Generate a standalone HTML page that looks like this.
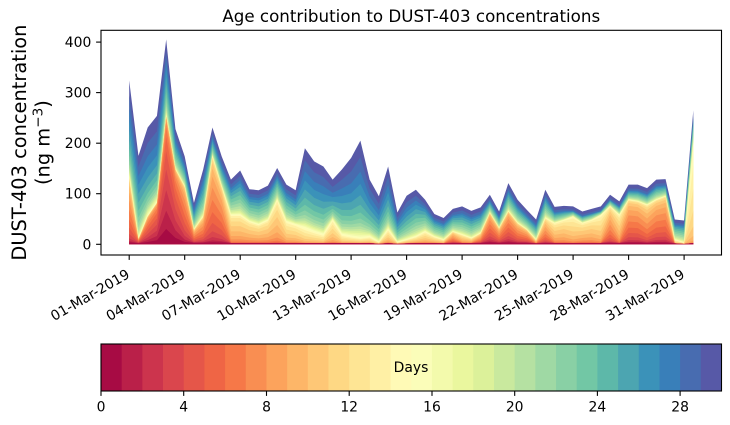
<!DOCTYPE html>
<html><head><meta charset="utf-8">
<style>
html,body{margin:0;padding:0;background:#fff;}
svg{display:block;}
text{font-family:"DejaVu Sans","Liberation Sans",sans-serif;fill:#000;}
</style></head>
<body>
<svg id="s" width="730" height="425" viewBox="0 0 730 425" xmlns="http://www.w3.org/2000/svg">
<rect width="730" height="425" fill="#fff"/>
<g id="areas"></g>
<g id="cbar"></g>
<rect x="101" y="30.3" width="620.5" height="224.7" fill="none" stroke="#000" stroke-width="1.1"/>
<text x="411.25" y="22" font-size="16.7" text-anchor="middle">Age contribution to DUST-403 concentrations</text>
<text transform="translate(26,142.6) rotate(-90)" font-size="19.4" text-anchor="middle">DUST-403 concentration</text>
<text transform="translate(49.5,142.6) rotate(-90)" font-size="19.4" text-anchor="middle">(ng m<tspan font-size="13.6" dy="-7">−3</tspan><tspan dy="7">)</tspan></text>
<g stroke="#000" stroke-width="1.1">
<line x1="96.1" y1="244.3" x2="101" y2="244.3"/>
<line x1="96.1" y1="193.7" x2="101" y2="193.7"/>
<line x1="96.1" y1="143.2" x2="101" y2="143.2"/>
<line x1="96.1" y1="92.6" x2="101" y2="92.6"/>
<line x1="96.1" y1="42.1" x2="101" y2="42.1"/>
</g>
<g font-size="13.9" text-anchor="end">
<text x="91.3" y="249.3">0</text>
<text x="91.3" y="198.7">100</text>
<text x="91.3" y="148.2">200</text>
<text x="91.3" y="97.6">300</text>
<text x="91.3" y="47.1">400</text>
</g>
<g stroke="#000" stroke-width="1.1">
<line x1="129.2" y1="255" x2="129.2" y2="259.9"/>
<line x1="184.7" y1="255" x2="184.7" y2="259.9"/>
<line x1="240.2" y1="255" x2="240.2" y2="259.9"/>
<line x1="295.7" y1="255" x2="295.7" y2="259.9"/>
<line x1="351.1" y1="255" x2="351.1" y2="259.9"/>
<line x1="406.6" y1="255" x2="406.6" y2="259.9"/>
<line x1="462.1" y1="255" x2="462.1" y2="259.9"/>
<line x1="517.6" y1="255" x2="517.6" y2="259.9"/>
<line x1="573.1" y1="255" x2="573.1" y2="259.9"/>
<line x1="628.6" y1="255" x2="628.6" y2="259.9"/>
<line x1="684.1" y1="255" x2="684.1" y2="259.9"/>
</g>
<g font-size="13.9" text-anchor="end">
<text transform="translate(130.7,277) rotate(-30)">01-Mar-2019</text>
<text transform="translate(186.2,277) rotate(-30)">04-Mar-2019</text>
<text transform="translate(241.7,277) rotate(-30)">07-Mar-2019</text>
<text transform="translate(297.2,277) rotate(-30)">10-Mar-2019</text>
<text transform="translate(352.6,277) rotate(-30)">13-Mar-2019</text>
<text transform="translate(408.1,277) rotate(-30)">16-Mar-2019</text>
<text transform="translate(463.6,277) rotate(-30)">19-Mar-2019</text>
<text transform="translate(519.1,277) rotate(-30)">22-Mar-2019</text>
<text transform="translate(574.6,277) rotate(-30)">25-Mar-2019</text>
<text transform="translate(630.1,277) rotate(-30)">28-Mar-2019</text>
<text transform="translate(685.6,277) rotate(-30)">31-Mar-2019</text>
</g>
<rect x="101" y="344" width="620.5" height="47" fill="none" stroke="#000" stroke-width="1.1"/>
<g stroke="#000" stroke-width="1.1">
<line x1="101" y1="391" x2="101" y2="395.9"/>
<line x1="183.7" y1="391" x2="183.7" y2="395.9"/>
<line x1="266.5" y1="391" x2="266.5" y2="395.9"/>
<line x1="349.2" y1="391" x2="349.2" y2="395.9"/>
<line x1="432" y1="391" x2="432" y2="395.9"/>
<line x1="514.7" y1="391" x2="514.7" y2="395.9"/>
<line x1="597.4" y1="391" x2="597.4" y2="395.9"/>
<line x1="680.1" y1="391" x2="680.1" y2="395.9"/>
</g>
<g font-size="13.9" text-anchor="middle">
<text x="101" y="411.5">0</text>
<text x="183.7" y="411.5">4</text>
<text x="266.5" y="411.5">8</text>
<text x="349.2" y="411.5">12</text>
<text x="432" y="411.5">16</text>
<text x="514.7" y="411.5">20</text>
<text x="597.4" y="411.5">24</text>
<text x="680.1" y="411.5">28</text>
</g>
<text x="411" y="372" font-size="13.9" text-anchor="middle">Days</text>
</svg>
<script>
(function(){
var T=[324,175,231,254,405,228,174,82,148,231,174,128,146,109,107,116,151,118,107,190,164,154,128,148,171,205,128,95,154,63,96,108,88,60,52,70,75,66,73,98,65,121,88,68,49,108,74,76,75,65,70,75,98,85,118,118,111,128,129,49,47,265];
var Y=[134,10,55,82,253,148,114,29,55,174,114,58,58,45,39,48,88,45,39,32,25,19,48,19,15,12,15,4,29,4,9,15,25,15,9,25,19,12,22,62,32,65,42,29,9,52,42,48,55,42,48,58,75,58,88,85,78,88,95,9,3,200];
var MY=[7,6,5,4,3,4,6,7,7,7,7,9,9,9,9,9,9,10,10,11,11,11,10,11,11,11,11,11,10,11,10,10,10,10,10,8,9,9,8,6,7,6,7,7,9,8,9,9,10,9,9,10,8,9,7,7,8,7,7,11,11,12];
var MO=[24,23,25,25,23,22,22,22,22,22,22,21,21,21,21,21,21,21,22,24,24,24,24,24,25,25,24,24,24,23,23,22,21,21,21,21,21,21,21,21,21,21,21,21,21,21,21,21,20,20,20,20,20,20,21,21,21,21,21,20,20,19];
var C=[[158,1,66],[213,62,79],[244,109,67],[253,174,97],[254,224,139],[255,255,191],[230,245,152],[171,221,164],[102,194,165],[50,136,189],[94,79,162]];
function spec(t){var s=t*10,i=Math.floor(s);if(i>=10)i=9;var f=s-i,a=C[i],b=C[i+1];
return 'rgb('+Math.round(a[0]+(b[0]-a[0])*f)+','+Math.round(a[1]+(b[1]-a[1])*f)+','+Math.round(a[2]+(b[2]-a[2])*f)+')';}
var N=30,P=T.length,ns="http://www.w3.org/2000/svg";
var X0=129.2,DX=9.2475,Y0=244.3,SY=0.5056;
var cum=[];
for(var k=0;k<P;k++){
  var tot=T[k],top=Math.min(6+0.03*tot,tot*0.15),young=Math.min(Y[k],tot-top-1),old=tot-young-top;
  var red=Math.min(2.5,young*0.2);young-=red;
  var L=[],i,w,s=0;
  var my=MY[k]>=9?MY[k]+1.5:MY[k],sg=MY[k]>=9?2.2:2.8;
  for(i=0;i<15;i++){w=Math.exp(-0.5*Math.pow((i+0.5-my)/sg,2));L[i]=w;s+=w;}
  for(i=0;i<15;i++)L[i]=L[i]/s*young;
  L[0]+=red;
  s=0;var mo=MO[k]+3.4;
  for(i=15;i<30;i++){w=0.15+Math.exp(-0.5*Math.pow((i+0.5-mo)/3.6,2));L[i]=w;s+=w;}
  for(i=15;i<30;i++)L[i]=L[i]/s*old;
  L[29]+=top*0.7;L[28]+=top*0.3;
  var c=[0];for(i=0;i<N;i++)c.push(c[i]+L[i]);
  cum.push(c);
}
var g=document.getElementById('areas');
for(var i2=N-1;i2>=0;i2--){
  var d='M'+X0.toFixed(2)+','+Y0;
  for(var k2=0;k2<P;k2++){d+=' L'+(X0+DX*k2).toFixed(2)+','+(Y0-cum[k2][i2+1]*SY).toFixed(2);}
  d+=' L'+(X0+DX*(P-1)).toFixed(2)+','+Y0+' Z';
  var p=document.createElementNS(ns,'path');p.setAttribute('d',d);p.setAttribute('fill',spec((i2+0.5)/30));
  g.appendChild(p);
}
var cb=document.getElementById('cbar'),bw=620.5/30;
for(var j=0;j<30;j++){var r=document.createElementNS(ns,'rect');
r.setAttribute('x',(101+j*bw).toFixed(2));r.setAttribute('y','344');r.setAttribute('width',(bw+0.4).toFixed(2));r.setAttribute('height','47');
r.setAttribute('fill',spec((j+0.5)/30));cb.appendChild(r);}
})();
</script>
</body></html>
